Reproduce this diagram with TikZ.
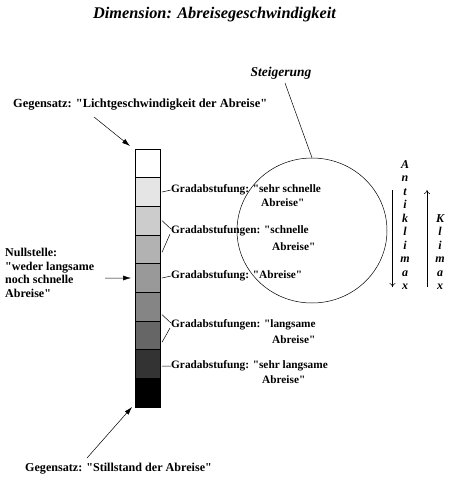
\documentclass[tikz,border=0pt]{standalone}
\usepackage{fontspec}
\setmainfont{Liberation Serif}[Ligatures=TeXOff]
\usetikzlibrary{shapes.geometric,calc,arrows.meta}
\begin{document}
\begin{tikzpicture}[x=1pt,y=-1pt,
  lbl/.style={font=\bfseries\fontsize{11.3}{13}\selectfont, inner sep=0pt, anchor=west},
  big lbl/.style={lbl, font=\bfseries\fontsize{12.4}{13}\selectfont},
  box/.style={draw, line width=0.6pt, minimum width=25pt, minimum height=28.67pt, inner sep=0pt, outer sep=0pt, anchor=north west},
  arr/.style={-{Latex[length=8pt,width=5pt]}, line width=0.5pt},
  thin line/.style={line width=0.5pt},
  vword/.style={font=\bfseries\itshape\fontsize{12}{13.5}\selectfont, align=center, inner sep=0pt, anchor=south}
]
\useasboundingbox (0,0) rectangle (451,480);
\node[font=\bfseries\itshape\fontsize{16.3}{19}\selectfont, inner sep=0pt] (title) at (214.5,15) {Dimension: Abreisegeschwindigkeit};

% column
\node[box, fill=white]     (b1) at (135,149) {};
\node[box, fill=black!10]  (b2) at (135,177.67) {};
\node[box, fill=black!20]  (b3) at (135,206.33) {};
\node[box, fill=black!30]  (b4) at (135,235) {};
\node[box, fill=black!40]  (b5) at (135,263.67) {};
\node[box, fill=black!48]  (b6) at (135,292.33) {};
\node[box, fill=black!60]  (b7) at (135,321) {};
\node[box, fill=black!80]  (b8) at (135,349.67) {};
\node[box, fill=black]     (b9) at (135,378.33) {};

% labels
\node[big lbl] (gtop) at (13,104.5) {Gegensatz: "Lichtgeschwindigkeit der Abreise"};
\node[lbl, font=\bfseries\fontsize{12.1}{13}\selectfont] (gbot) at (25,469) {Gegensatz: "Stillstand der Abreise"};
\node[lbl, align=left, font=\bfseries\fontsize{12}{13.7}\selectfont, anchor=north west] (null) at (5,248) {Nullstelle:\\"weder langsame\\noch schnelle\\Abreise"};

\node[lbl] (l1a) at (171,190) {Gradabstufung: "sehr schnelle};
\node[lbl] (l1b) at (261,203) {Abreise"};
\node[lbl] (l2a) at (171,231) {Gradabstufungen: "schnelle};
\node[lbl] (l2b) at (272,247) {Abreise"};
\node[lbl] (l3a) at (171,276) {Gradabstufung: "Abreise"};
\node[lbl] (l4a) at (171,325) {Gradabstufungen: "langsame};
\node[lbl] (l4b) at (272,340) {Abreise"};
\node[lbl] (l5a) at (171,366) {Gradabstufung: "sehr langsame};
\node[lbl] (l5b) at (262,380) {Abreise"};

% connectors from column to labels
\draw[thin line] ($(b2.east)+(2,0)$) -- (l1a.west);
\draw[thin line] ($(b3.east)+(2,0)$) -- ($(l2a.west)+(0,-2)$);
\draw[thin line] ($(b4.east)+(2,3)$) -- ($(l2a.west)+(-1,3)$);
\draw[thin line] ($(b5.east)+(2,0)$) -- (l3a.west);
\draw[thin line] ($(b6.east)+(2,8)$) -- ($(l4a.west)+(0,-2)$);
\draw[thin line] ($(b7.east)+(2,7)$) -- ($(l4a.west)+(-1,3)$);
\draw[thin line] ($(b8.east)+(2,2)$) -- (l5a.west);

% arrows to column
\coordinate (gtopS) at (94,117);
\coordinate (gbotN) at (87,458);
\coordinate (nullE) at (105,278);
\draw[arr] (gtopS) -- ($(b1.north west)+(-5,-3)$);
\draw[arr] (gbotN) -- ($(b9.south west)+(-3,0)$);
\draw[arr] (nullE) -- ($(b5.west)+(-4,0)$);

% Steigerung
\node[font=\bfseries\itshape\fontsize{13.5}{15}\selectfont, inner sep=0pt] (steig) at (281,73) {Steigerung};
\node[draw, ellipse, thin line, minimum width=150pt, minimum height=145pt, inner sep=0pt] (ell) at (312,230.5) {};
\coordinate (steigS) at (285,83);
\draw[thin line] (steigS) -- (ell.north);

% Antiklimax / Klimax
\node[vword] (anti) at (405,290) {A\\n\\t\\i\\k\\l\\i\\m\\a\\x};
\node[vword] (kli) at (440,290) {K\\l\\i\\m\\a\\x};
\coordinate (dtop) at (392.5,190);
\coordinate (dbot) at (392.5,287);
\coordinate (ubot) at (427,287);
\coordinate (utop) at (427,190);
\draw[thin line, -{To[length=4pt,width=6pt]}] (dtop) -- (dbot);
\draw[thin line, -{To[length=4pt,width=6pt]}] (ubot) -- (utop);
\end{tikzpicture}
\end{document}
